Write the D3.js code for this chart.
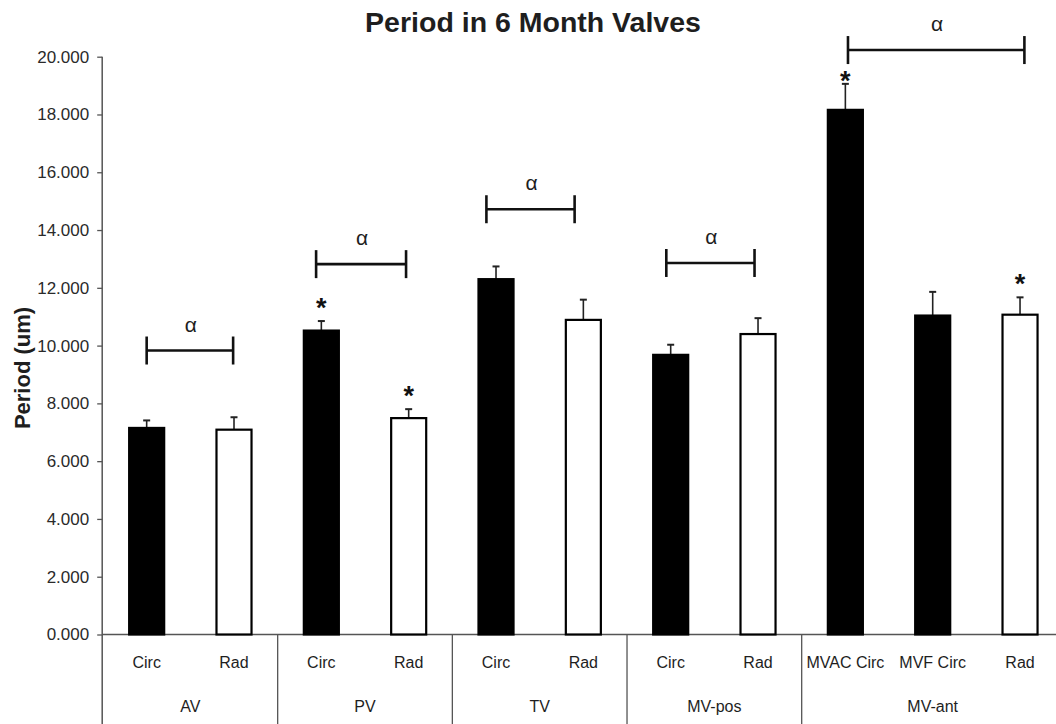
<!DOCTYPE html>
<html>
<head>
<meta charset="utf-8">
<script src="https://cdn.jsdelivr.net/npm/d3@7"></script>
<style>
  html, body { margin: 0; padding: 0; background: #fff; }
  svg { display: block; font-family: "Liberation Sans", Arial, Helvetica, sans-serif; }
</style>
</head>
<body>
<svg id="chart" width="1056" height="724"></svg>
<script>
// Mean period per valve region and fibre direction
const barLabels = ["Circ", "Rad", "Circ", "Rad", "Circ", "Rad", "Circ", "Rad", "MVAC Circ", "MVF Circ", "Rad"];
const barGroups = ["AV", "AV", "PV", "PV", "TV", "TV", "MV-pos", "MV-pos", "MV-ant", "MV-ant", "MV-ant"];
const barValues = [7.15, 7.09, 10.52, 7.49, 12.30, 10.89, 9.68, 10.40, 18.16, 11.04, 11.07];
const barErrors = [0.26, 0.43, 0.33, 0.31, 0.44, 0.70, 0.35, 0.55, 0.90, 0.82, 0.60];
const barFilled = [true, false, true, false, true, false, true, false, true, true, false];
const barStar   = [false, false, true, true, false, false, false, false, true, false, true];

// Group names in axis order
const groupNames = ["AV", "PV", "TV", "MV-pos", "MV-ant"];

// Significance brackets (α): span in category-slot units and height in axis units
const bracketFrom  = [0.50, 2.44, 4.39, 6.45, 8.53];
const bracketTo    = [1.49, 3.47, 5.40, 7.46, 10.55];
const bracketLevel = [9.83, 12.82, 14.72, 12.86, 20.23];

// Y ticks
const yTicks = [0, 2, 4, 6, 8, 10, 12, 14, 16, 18, 20];
const yTickLabels = ["0.000", "2.000", "4.000", "6.000", "8.000", "10.000", "12.000", "14.000", "16.000", "18.000", "20.000"];

const svg = d3.select("#chart");
const W = 1056, H = 724;
const left = 103, right = 1063.7, baseY = 634.5, topY = 56.7;
const textColor = "#1e1e1e";
const axisColor = "#555";

const y = d3.scaleLinear().domain([0, 20]).range([baseY, topY]);
const slotIds = barLabels.map((d, i) => i);
const x = d3.scaleBand().domain(slotIds).range([left, right])
  .paddingInner(0.576).paddingOuter(0.288);
const slot = d3.scaleLinear().domain([0, barLabels.length]).range([left, right]);

// Title
svg.append("text")
  .attr("x", 533).attr("y", 32)
  .attr("text-anchor", "middle")
  .attr("font-size", 28.5).attr("font-weight", "bold")
  .attr("fill", textColor)
  .text("Period in 6 Month Valves");

// Y axis
const yAxis = d3.axisLeft(y)
  .tickValues(yTicks)
  .tickFormat((d, i) => yTickLabels[i])
  .tickSizeInner(5).tickSizeOuter(0).tickPadding(8);
const gy = svg.append("g").attr("transform", `translate(${left - 0.8},0)`).call(yAxis);
gy.select(".domain").attr("stroke", axisColor).attr("stroke-width", 1.5)
  .attr("d", `M0,${topY}V${H}`);
gy.selectAll(".tick line").attr("stroke", axisColor).attr("stroke-width", 1.3);
gy.selectAll(".tick text").attr("font-size", 17).attr("fill", "#2a2a2a")
  .attr("font-family", "Liberation Sans, Arial, sans-serif");

// Y axis title
svg.append("text")
  .attr("transform", `translate(30,368) rotate(-90)`)
  .attr("text-anchor", "middle")
  .attr("font-size", 22).attr("font-weight", "bold")
  .attr("fill", textColor)
  .text("Period (um)");

// Baseline
svg.append("line")
  .attr("x1", left - 0.8).attr("x2", W)
  .attr("y1", baseY).attr("y2", baseY)
  .attr("stroke", axisColor).attr("stroke-width", 1.5);

// Group separators below the baseline
const groupStart = groupNames.map(g => barGroups.indexOf(g));
const groupEnd = groupNames.map(g => barGroups.lastIndexOf(g) + 1);
svg.selectAll(".sep").data(groupStart.slice(1)).join("line")
  .attr("class", "sep")
  .attr("x1", d => slot(d)).attr("x2", d => slot(d))
  .attr("y1", baseY).attr("y2", H)
  .attr("stroke", axisColor).attr("stroke-width", 1.3);

// Bar labels
svg.selectAll(".blab").data(barLabels).join("text")
  .attr("class", "blab")
  .attr("x", (d, i) => x(i) + x.bandwidth() / 2)
  .attr("y", 668)
  .attr("text-anchor", "middle")
  .attr("font-size", 16).attr("fill", textColor)
  .text(d => d);

// Group labels
svg.selectAll(".glab").data(groupNames).join("text")
  .attr("class", "glab")
  .attr("x", (d, i) => (slot(groupStart[i]) + slot(groupEnd[i])) / 2)
  .attr("y", 712)
  .attr("text-anchor", "middle")
  .attr("font-size", 16).attr("fill", textColor)
  .text(d => d);

// Error bars (upper only)
const errG = svg.append("g");
barValues.forEach((v, i) => {
  const cx = x(i) + x.bandwidth() / 2;
  errG.append("line")
    .attr("x1", cx).attr("x2", cx)
    .attr("y1", y(v)).attr("y2", y(v + barErrors[i]))
    .attr("stroke", "#222").attr("stroke-width", 1.6);
  errG.append("line")
    .attr("x1", cx - 3.5).attr("x2", cx + 3.5)
    .attr("y1", y(v + barErrors[i])).attr("y2", y(v + barErrors[i]))
    .attr("stroke", "#222").attr("stroke-width", 2);
});

// Bars
svg.selectAll(".bar").data(barValues).join("rect")
  .attr("class", "bar")
  .attr("x", (d, i) => x(i) + 1)
  .attr("width", x.bandwidth() - 2)
  .attr("y", d => y(d))
  .attr("height", d => baseY - y(d))
  .attr("fill", (d, i) => barFilled[i] ? "#000" : "#fff")
  .attr("stroke", "#000")
  .attr("stroke-width", 2.2);

// Significance brackets
const tickHalf = 14;
bracketFrom.forEach((f, i) => {
  const x1 = slot(f), x2 = slot(bracketTo[i]), yy = y(bracketLevel[i]);
  const g = svg.append("g").attr("stroke", "#111").attr("stroke-width", 2.6);
  g.append("line").attr("x1", x1).attr("x2", x2).attr("y1", yy).attr("y2", yy);
  g.append("line").attr("x1", x1).attr("x2", x1).attr("y1", yy - tickHalf).attr("y2", yy + tickHalf);
  g.append("line").attr("x1", x2).attr("x2", x2).attr("y1", yy - tickHalf).attr("y2", yy + tickHalf);
  svg.append("text")
    .attr("x", (x1 + x2) / 2 + 1)
    .attr("y", yy - 25 + 6)
    .attr("text-anchor", "middle")
    .attr("font-size", 21).attr("fill", textColor)
    .text("α");
});

// Significance stars above the error bars
barStar.forEach((s, i) => {
  if (!s) return;
  const cx = x(i) + x.bandwidth() / 2;
  const errTop = y(barValues[i] + barErrors[i]);
  let cy = errTop - 19;
  // keep clear of a bracket tick sitting just above
  bracketFrom.forEach((f, j) => {
    const bx = slot(f);
    const tickBottom = y(bracketLevel[j]) + tickHalf;
    if (Math.abs(bx - cx) < 12 && tickBottom > cy - 6 && tickBottom < errTop) {
      cy = (errTop + tickBottom) / 2 + 1;
    }
  });
  svg.append("text")
    .attr("x", cx)
    .attr("y", cy + 15)
    .attr("text-anchor", "middle")
    .attr("font-size", 27).attr("font-weight", "bold")
    .attr("fill", "#111")
    .text("*");
});
</script>
</body>
</html>
